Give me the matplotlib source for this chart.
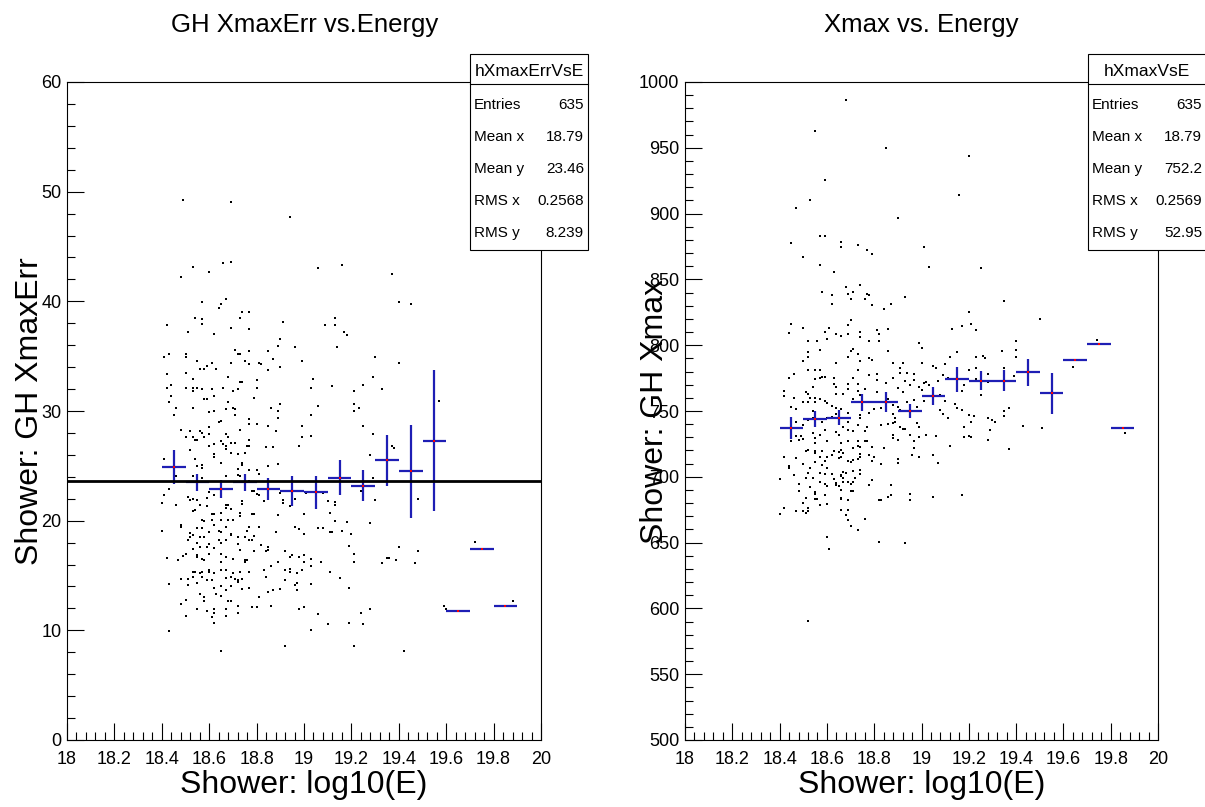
import numpy as np
import matplotlib.pyplot as plt
from matplotlib.patches import Rectangle
from matplotlib.lines import Line2D
from matplotlib.ticker import MultipleLocator

plt.rcParams['font.family'] = ['Liberation Sans', 'DejaVu Sans']

# ---------------- data ----------------
# left panel: Shower log10(E) vs GH XmaxErr
err_x = [18.49, 18.69, 18.94, 18.53, 18.60, 18.48, 18.66, 18.69, 19.06, 19.16, 18.57, 18.67, 18.65, 18.64,
         18.54, 18.57, 18.57, 18.42, 18.51, 18.62, 18.69, 18.74, 18.77, 18.73, 18.77, 18.91, 18.90, 18.89,
         18.96, 19.09, 19.13, 19.13, 19.17, 19.18, 19.14, 18.41, 18.43, 18.50, 18.50, 18.55, 18.61, 18.59,
         18.56, 18.58, 18.63, 18.69, 18.71, 18.72, 18.73, 18.75, 18.77, 18.77, 18.81, 18.82, 18.85, 18.85,
         18.87, 18.90, 18.99, 18.42, 18.50, 18.53, 18.44, 18.42, 18.50, 18.53, 18.53, 18.55, 18.57, 18.61,
         18.66, 18.68, 18.70, 18.72, 18.73, 18.74, 18.80, 18.80, 18.79, 18.44, 18.43, 18.46, 18.45, 18.53,
         18.58, 18.59, 18.62, 18.60, 18.62, 18.68, 18.67, 18.70, 18.71, 18.71, 18.65, 18.64, 18.77, 18.77,
         18.80, 18.86, 18.89, 18.90, 18.89, 18.85, 18.88, 18.99, 18.99, 18.98, 19.04, 19.03, 19.06, 19.03,
         19.03, 19.12, 18.48, 18.50, 18.52, 18.53, 18.54, 18.55, 18.56, 18.57, 18.58, 18.60, 18.60, 18.60,
         18.62, 18.62, 18.62, 18.65, 18.66, 18.67, 18.67, 18.67, 18.68, 18.69, 18.71, 18.69, 18.72, 18.73,
         18.75, 18.76, 18.77, 18.77, 18.84, 18.87, 18.52, 18.54, 18.57, 18.55, 18.57, 18.65, 18.72, 18.74,
         18.74, 18.85, 18.89, 18.41, 18.43, 18.46, 18.53, 18.57, 18.67, 18.72, 18.73, 18.77, 18.80, 18.81,
         18.77, 18.79, 18.80, 18.81, 18.78, 18.90, 18.41, 18.40, 18.46, 18.51, 18.52, 18.53, 18.55, 18.54,
         18.53, 18.56, 18.60, 18.59, 18.62, 18.59, 18.61, 18.62, 18.65, 18.67, 18.67, 18.69, 18.68, 18.74,
         18.74, 18.73, 18.73, 18.78, 18.79, 18.83, 18.91, 18.91, 18.94, 18.96, 19.00, 18.89, 19.01, 19.08,
         19.10, 19.13, 19.13, 19.11, 18.57, 18.58, 18.61, 18.65, 18.68, 18.70, 18.62, 18.48, 18.48, 18.40,
         18.52, 18.55, 18.57, 18.60, 18.64, 18.65, 18.67, 18.69, 18.69, 18.76, 18.77, 18.81, 18.88, 18.96,
         18.98, 19.00, 19.06, 19.08, 19.11, 19.12, 19.16, 18.52, 18.51, 18.53, 18.56, 18.55, 18.58, 18.60,
         18.64, 18.65, 18.67, 18.72, 18.75, 18.77, 18.78, 18.79, 18.72, 18.59, 18.56, 18.53, 18.50, 18.49,
         18.47, 18.42, 18.55, 18.55, 18.57, 18.58, 18.60, 18.62, 18.65, 18.65, 18.67, 18.70, 18.73, 18.75,
         18.75, 18.76, 18.79, 18.82, 18.84, 18.85, 18.85, 18.83, 18.86, 18.89, 18.92, 18.94, 18.95, 18.98,
         19.00, 19.00, 19.03, 19.03, 19.07, 18.92, 18.94, 18.94, 18.97, 18.99, 18.53, 18.54, 18.56, 18.57,
         18.60, 18.60, 18.62, 18.65, 18.67, 18.70, 18.72, 18.72, 18.73, 18.77, 18.48, 18.51, 18.53, 18.57,
         18.59, 18.61, 18.67, 18.69, 18.71, 18.74, 18.84, 18.92, 18.96, 18.97, 18.43, 18.51, 18.55, 18.62,
         18.65, 18.67, 18.69, 18.74, 18.77, 18.85, 18.87, 18.90, 18.97, 19.03, 18.50, 18.56, 18.58, 18.58,
         18.63, 18.65, 18.68, 18.69, 18.81, 18.48, 18.55, 18.59, 18.62, 18.62, 18.67, 18.72, 18.72, 18.78,
         18.80, 18.86, 18.98, 19.00, 19.06, 18.50, 18.61, 18.62, 18.67, 18.43, 19.03, 19.10, 19.19, 18.92,
         19.19, 19.15, 19.11, 19.19, 19.18, 19.13, 18.65, 19.42,
         19.37, 19.40, 19.45, 19.30, 19.40, 19.29, 19.25, 19.33, 19.21, 19.21, 19.23, 19.21, 19.57, 19.25,
         19.29, 19.37, 19.38, 19.28, 19.29, 19.24, 19.30, 19.48, 19.28, 19.20, 19.40, 19.48, 19.21, 19.35,
         19.36, 19.21, 19.33, 19.39, 19.47, 19.72, 19.59, 19.60, 19.28, 19.24, 19.25, 19.88, 19.21]
err_y = [49.2, 49.1, 47.7, 43.1, 42.7, 42.2, 43.5, 43.6, 43.0, 43.3, 39.9, 40.2, 39.8, 39.4,
         38.5, 38.4, 37.9, 37.8, 37.2, 37.0, 37.6, 39.0, 39.0, 38.5, 37.5, 38.1, 36.6, 35.9,
         35.8, 37.8, 38.5, 37.8, 37.2, 36.9, 35.8, 34.9, 35.2, 34.9, 35.2, 34.6, 34.4, 34.1,
         33.8, 33.8, 33.8, 34.4, 35.6, 35.2, 35.2, 34.6, 35.5, 34.3, 34.4, 34.3, 35.5, 33.7,
         34.7, 34.0, 34.6, 33.4, 33.5, 32.9, 32.4, 32.1, 32.1, 32.1, 31.8, 32.1, 32.0, 32.0,
         32.1, 33.1, 31.8, 32.0, 32.6, 32.6, 32.8, 32.1, 31.2, 31.4, 30.8, 30.3, 29.6, 30.3,
         31.1, 31.1, 31.4, 29.9, 30.0, 30.8, 30.2, 30.3, 30.2, 29.6, 29.1, 29.0, 29.3, 28.8,
         28.8, 30.3, 30.0, 30.6, 29.4, 28.6, 28.2, 28.6, 27.6, 26.8, 32.9, 32.1, 30.5, 29.6,
         27.7, 32.3, 28.3, 27.6, 28.2, 27.6, 27.4, 27.4, 28.2, 28.0, 27.6, 27.9, 28.5, 26.8,
         27.0, 26.1, 25.8, 27.3, 27.0, 26.8, 26.5, 27.9, 27.6, 27.1, 27.1, 26.2, 26.1, 28.3,
         26.2, 26.8, 27.4, 26.8, 26.7, 26.7, 26.4, 25.6, 25.1, 25.0, 24.8, 25.3, 24.7, 25.3,
         25.1, 25.0, 25.2, 25.6, 22.9, 24.1, 24.1, 23.9, 24.1, 24.2, 24.1, 24.6, 24.6, 24.3,
         23.6, 22.7, 22.4, 22.3, 22.7, 22.5, 22.3, 21.6, 21.4, 22.2, 21.9, 22.0, 21.9, 21.0,
         20.9, 21.4, 22.6, 22.1, 22.3, 21.3, 20.6, 20.6, 20.7, 21.4, 21.2, 21.1, 21.4, 21.8,
         21.5, 20.7, 20.4, 20.6, 20.6, 21.8, 21.9, 21.6, 21.3, 22.0, 20.6, 20.5, 22.5, 22.5,
         21.8, 21.7, 21.4, 20.7, 20.1, 20.0, 20.1, 20.1, 20.1, 20.1, 19.6, 19.6, 19.4, 19.1,
         18.9, 19.3, 19.3, 19.0, 19.1, 19.0, 19.4, 18.8, 18.7, 19.1, 19.4, 19.4, 19.0, 19.4,
         19.2, 18.8, 19.3, 19.3, 19.0, 19.0, 19.1, 18.5, 18.2, 18.7, 18.5, 18.0, 18.5, 17.9,
         18.2, 18.0, 18.2, 18.5, 18.5, 18.2, 18.2, 18.6, 17.9, 17.6, 17.6, 17.4, 17.0, 16.8,
         16.4, 16.6, 16.9, 16.7, 16.5, 16.4, 17.0, 17.5, 17.0, 16.2, 16.7, 16.5, 17.3, 16.4,
         16.2, 16.4, 17.2, 17.8, 17.2, 17.6, 17.3, 15.5, 15.9, 16.2, 17.2, 16.7, 16.9, 16.7,
         16.9, 16.2, 16.5, 15.9, 16.2, 15.5, 15.6, 15.3, 15.2, 15.5, 15.3, 15.3, 15.2, 15.3,
         15.5, 15.3, 15.2, 15.5, 15.5, 15.2, 14.6, 14.4, 15.3, 15.3, 14.7, 14.7, 14.9, 14.9,
         14.6, 14.6, 14.8, 14.9, 14.7, 14.7, 14.9, 14.6, 14.1, 14.3, 14.2, 14.1, 14.3, 13.9,
         14.0, 13.7, 14.0, 13.8, 13.9, 13.5, 13.7, 13.8, 13.7, 14.2, 12.8, 13.3, 13.0, 12.7,
         13.3, 13.1, 12.7, 12.7, 13.0, 12.4, 11.9, 11.8, 11.9, 11.6, 11.9, 12.2, 11.6, 12.1,
         12.1, 12.2, 11.9, 12.1, 11.5, 11.3, 11.2, 10.7, 11.3, 9.9, 10.0, 10.6, 10.7, 8.6,
         13.9, 14.8, 15.3, 17.7, 19.9, 20.0, 8.1, 8.1,
         42.5, 39.9, 39.8, 34.9, 34.4, 33.1, 32.4, 32.0, 31.8, 30.6, 30.3, 30.0, 30.9, 28.6,
         27.9, 26.8, 26.6, 26.0, 23.9, 22.7, 21.9, 22.0, 19.8, 18.8, 17.6, 17.2, 17.0, 16.6,
         16.6, 16.2, 16.1, 16.4, 16.1, 18.1, 12.2, 11.9, 11.9, 11.6, 10.6, 12.7, 8.6]

# right panel: Shower log10(E) vs GH Xmax
xmax_x = [18.68, 18.55, 18.85, 19.20, 18.59, 19.16, 18.53, 18.47, 18.90, 18.45, 18.57, 18.59, 18.66, 18.66,
          18.73, 18.77, 18.79, 19.01, 18.50, 18.57, 18.63, 19.03, 18.68, 18.74, 18.58, 18.62, 18.69, 18.71,
          18.70, 18.62, 18.77, 18.78, 18.76, 18.79, 18.87, 18.84, 18.93, 19.20, 18.45, 18.44, 18.50, 18.61,
          18.59, 18.64, 18.66, 18.69, 18.70, 18.69, 18.74, 18.74, 18.60, 18.52, 18.56, 18.78, 18.81, 18.82,
          18.82, 18.86, 19.13, 19.17, 18.99, 19.00, 18.86, 18.57, 18.52, 18.52, 18.50, 18.71, 18.70, 18.73,
          18.69, 18.78, 18.79, 18.64, 18.74, 18.88, 18.92, 18.44, 18.46, 18.52, 18.55, 18.57, 18.55, 18.58,
          18.59, 18.57, 18.63, 18.73, 18.71, 18.69, 18.73, 18.78, 18.81, 18.81, 18.85, 18.88, 18.91, 18.91,
          18.94, 18.97, 18.97, 19.02, 19.00, 19.05, 19.06, 19.10, 19.12, 19.15, 19.15, 19.20, 18.99, 19.00,
          19.01, 19.03, 19.07, 19.09, 19.11, 18.93, 18.90, 18.92, 18.95, 18.73, 18.76, 18.81, 18.64, 18.63,
          18.54, 18.51, 18.52, 18.42, 18.42, 18.46, 18.53, 18.55, 18.57, 18.50, 18.52, 18.55, 18.59, 18.60,
          18.62, 18.64, 18.66, 18.64, 18.67, 18.69, 18.71, 18.74, 18.45, 18.47, 18.54, 18.64, 18.69, 18.74,
          18.78, 18.80, 18.83, 18.86, 18.88, 18.90, 18.88, 18.91, 18.94, 18.97, 18.98, 19.01, 19.05, 19.08,
          19.10, 19.08, 19.09, 19.11, 19.14, 19.15, 19.17, 19.20, 19.17, 19.18, 18.47, 18.50, 18.52, 18.54,
          18.58, 18.59, 18.60, 18.62, 18.67, 18.69, 18.73, 18.74, 18.77, 18.83, 18.86, 18.88, 18.89, 18.89,
          18.91, 18.93, 18.92, 18.98, 18.99, 19.02, 18.99, 18.97, 18.88, 18.88, 18.90, 18.95, 18.76, 18.71,
          18.69, 18.65, 18.64, 18.57, 18.54, 18.49, 18.47, 18.48, 18.50, 18.45, 18.55, 18.55, 18.60, 18.66,
          18.69, 18.73, 18.76, 18.74, 18.77, 18.79, 18.73, 18.71, 18.80, 18.79, 18.84, 18.97, 18.96, 18.99,
          19.06, 19.05, 19.07, 19.12, 19.18, 19.18, 19.20, 18.90, 18.90, 18.83, 18.78, 18.74, 18.74, 18.73,
          18.71, 18.70, 18.69, 18.67, 18.66, 18.65, 18.65, 18.66, 18.63, 18.62, 18.60, 18.58, 18.57, 18.55,
          18.55, 18.52, 18.51, 18.47, 18.42, 18.44, 18.44, 18.46, 18.40, 18.50, 18.52, 18.53, 18.53, 18.55,
          18.58, 18.59, 18.60, 18.62, 18.59, 18.57, 18.54, 18.51, 18.48, 18.48, 18.57, 18.59, 18.60, 18.63,
          18.64, 18.64, 18.66, 18.66, 18.67, 18.68, 18.67, 18.69, 18.67, 18.70, 18.71, 18.72, 18.74, 18.74,
          18.71, 18.70, 18.71, 18.66, 18.65, 18.55, 18.55, 18.59, 18.51, 18.55, 18.56, 18.57, 18.60, 18.50,
          18.52, 18.50, 18.51, 18.52, 18.47, 18.42, 18.40, 18.66, 18.66, 18.69, 18.66, 18.69, 18.68, 18.69,
          18.70, 18.73, 18.76, 18.79, 18.78, 18.83, 18.82, 18.86, 18.87, 18.87, 18.95, 18.95, 19.05, 19.17,
          18.60, 18.61, 18.82, 18.93, 18.52,
          19.25, 19.35, 19.21, 19.23, 19.50, 19.40, 19.34, 19.40, 19.26, 19.27, 19.23, 19.40, 19.23, 19.35,
          19.28, 19.39, 19.23, 19.28, 19.25, 19.37, 19.35, 19.22, 19.35, 19.28, 19.30, 19.31, 19.21, 19.43,
          19.51, 19.29, 19.21, 19.28, 19.37, 19.74, 19.64, 19.86]
xmax_y = [986.7, 962.7, 949.9, 943.8, 925.9, 914.5, 910.5, 904.1, 896.3, 877.4, 882.7, 882.7, 878.7, 874.7,
          876.1, 872.1, 869.4, 874.7, 867.3, 860.9, 855.5, 859.5, 844.1, 845.4, 840.1, 838.0, 838.8, 840.1,
          835.3, 831.6, 838.8, 838.0, 835.3, 830.2, 831.6, 827.5, 836.6, 824.9, 816.1, 808.9, 813.4, 813.4,
          809.7, 808.6, 807.3, 808.6, 818.8, 815.3, 810.0, 806.0, 804.6, 803.3, 803.3, 803.3, 811.3, 808.6,
          803.3, 812.1, 812.1, 814.8, 801.9, 797.9, 795.8, 796.6, 794.5, 790.8, 788.1, 797.4, 795.3, 793.2,
          790.8, 790.0, 788.6, 786.8, 788.1, 786.8, 786.8, 775.3, 778.0, 781.4, 781.4, 781.4, 774.0, 776.1,
          776.1, 775.3, 775.3, 781.4, 774.8, 770.8, 770.5, 777.4, 778.0, 773.4, 771.3, 774.8, 782.8, 778.8,
          778.8, 778.0, 773.4, 772.1, 786.8, 784.1, 782.8, 785.4, 790.8, 794.5, 782.8, 781.4, 768.6, 766.0,
          771.3, 770.0, 772.6, 777.4, 774.8, 772.6, 767.3, 764.1, 770.0, 765.4, 766.8, 764.1, 768.1, 770.8,
          768.6, 764.6, 762.8, 765.4, 761.4, 760.1, 760.1, 760.1, 758.8, 756.6, 756.6, 756.6, 757.4, 756.1,
          754.0, 752.6, 751.3, 762.8, 762.8, 766.8, 759.3, 762.0, 753.4, 751.3, 750.0, 748.1, 748.6, 746.8,
          748.6, 751.3, 752.6, 758.8, 754.8, 753.4, 748.1, 750.8, 756.6, 758.0, 753.4, 757.4, 760.1, 762.0,
          757.4, 750.8, 748.1, 744.6, 755.3, 752.1, 750.8, 747.3, 765.4, 769.4, 742.0, 739.3, 742.8, 744.6,
          742.0, 735.3, 744.6, 745.5, 737.5, 742.0, 739.3, 744.6, 738.0, 739.3, 740.1, 740.6, 744.6, 742.0,
          737.5, 736.1, 736.1, 740.6, 737.5, 732.1, 730.0, 727.3, 732.1, 729.4, 728.1, 732.1, 734.8, 734.8,
          735.3, 732.1, 734.0, 732.1, 733.4, 730.8, 730.8, 728.1, 728.6, 727.3, 729.4, 726.0, 727.3, 725.5,
          727.3, 727.3, 727.3, 722.8, 727.3, 722.8, 723.3, 722.0, 714.8, 712.1, 722.0, 722.0, 716.7, 714.8,
          730.8, 716.7, 710.8, 723.3, 737.5, 730.0, 731.3, 713.5, 710.8, 709.5, 716.7, 717.5, 715.3, 713.5,
          712.6, 711.3, 712.1, 718.0, 720.7, 718.8, 714.0, 715.3, 719.3, 716.7, 714.8, 719.3, 715.3, 719.3,
          718.0, 720.7, 719.3, 714.0, 715.3, 708.1, 706.8, 701.5, 698.0, 710.0, 702.8, 706.8, 692.1, 711.3,
          708.7, 712.1, 706.8, 702.0, 702.0, 702.8, 698.8, 698.8, 694.8, 689.4, 696.1, 694.8, 692.7, 698.0,
          695.3, 694.0, 700.6, 701.4, 703.3, 702.8, 699.3, 696.1, 696.1, 694.8, 696.1, 698.8, 702.0, 705.4,
          704.6, 689.4, 689.4, 690.0, 692.7, 688.1, 686.8, 686.0, 684.1, 682.8, 682.8, 678.8, 679.3, 680.1,
          676.1, 674.0, 672.7, 674.0, 674.0, 676.1, 672.1, 684.1, 682.8, 682.0, 674.8, 674.8, 670.8, 666.8,
          662.8, 659.3, 668.1, 697.5, 693.5, 682.0, 682.0, 684.6, 686.0, 693.5, 687.3, 682.0, 684.6, 686.0,
          654.0, 645.5, 650.3, 649.5, 590.5,
          858.5, 833.9, 816.1, 811.3, 819.8, 803.3, 795.8, 796.6, 792.1, 790.0, 790.8, 790.8, 782.8, 782.8,
          778.0, 776.6, 774.0, 772.1, 762.5, 752.6, 750.0, 746.0, 746.0, 744.6, 743.3, 742.0, 742.0, 738.5,
          737.2, 735.8, 730.0, 728.1, 721.4, 803.8, 783.3, 733.5]

# profiles (bins of 0.1 in log10(E), 18.4 .. 19.9)
prof_x = [18.45, 18.55, 18.65, 18.75, 18.85, 18.95, 19.05, 19.15, 19.25, 19.35, 19.45, 19.55, 19.65, 19.75, 19.85]
err_prof = [24.9, 23.5, 22.9, 23.5, 22.9, 22.7, 22.6, 23.9, 23.2, 25.5, 24.5, 27.3, 11.8, 17.4, 12.2]
err_prof_e = [1.55, 0.75, 0.8, 0.8, 1.0, 1.4, 1.5, 1.6, 1.45, 2.35, 4.25, 6.45, 0, 0, 0]
xmax_prof = [737.3, 743.7, 745.0, 756.6, 756.6, 750.0, 761.6, 774.0, 773.0, 773.0, 779.4, 763.4, 788.5, 801.0, 737.3]
xmax_prof_e = [8.5, 6.0, 5.5, 6.3, 7.7, 5.2, 6.7, 9.7, 7.3, 8.0, 10.2, 15.8, 0, 0, 0]
fit_const = 23.6

stat_labels = ["Entries", "Mean x", "Mean y", "RMS x", "RMS y"]
err_stats = ["635", "18.79", "23.46", "0.2568", "8.239"]
xmax_stats = ["635", "18.79", "752.2", "0.2569", "52.95"]

# ---------------- figure ----------------
W, H = 1205, 807
fig = plt.figure(figsize=(W / 100, H / 100), dpi=100)


def fx(px):
    return px / W


def fy(py):
    return 1 - py / H


blue = '#1e1eb4'


def setup(ax, ymin, ymax, ymaj, ymin_step, ylabel, ylab_x):
    ax.set_xlim(18, 20)
    ax.set_ylim(ymin, ymax)
    ax.xaxis.set_major_locator(MultipleLocator(0.2))
    ax.xaxis.set_minor_locator(MultipleLocator(0.04))
    ax.yaxis.set_major_locator(MultipleLocator(ymaj))
    ax.yaxis.set_minor_locator(MultipleLocator(ymin_step))
    ax.xaxis.set_major_formatter(plt.FuncFormatter(lambda v, p: f"{v:g}"))
    ax.tick_params(which='both', direction='in', top=False, right=False, width=0.8, labelsize=13)
    ax.tick_params(which='major', length=12)
    ax.tick_params(which='minor', length=6)
    ax.tick_params(axis='x', pad=8)
    ax.tick_params(axis='y', pad=4)
    for s in ax.spines.values():
        s.set_linewidth(0.8)
    ax.set_xlabel("Shower: log10(E)", fontsize=23)
    ax.xaxis.set_label_coords(0.5, -0.068)
    ax.xaxis.label.set_va('center')
    ax.set_ylabel(ylabel, fontsize=23)
    ax.yaxis.set_label_coords(ylab_x, 0.5)
    ax.yaxis.label.set_va('center')


def stats_box(x0, name, values):
    x1 = x0 + 118
    y0, ysep, y1 = 54, 84, 250
    fig.add_artist(Rectangle((fx(x0), fy(y1)), (x1 - x0) / W, (y1 - y0) / H,
                             transform=fig.transFigure, fc='white', ec='black', lw=0.8, zorder=5))
    fig.add_artist(Line2D([fx(x0), fx(x1)], [fy(ysep), fy(ysep)], transform=fig.transFigure,
                          color='black', lw=0.8, zorder=6))
    fig.text(fx((x0 + x1) / 2), fy(71), name, ha='center', va='center', fontsize=12.5, zorder=7)
    for i, (lab, val) in enumerate(zip(stat_labels, values)):
        yy = 105 + i * 32
        fig.text(fx(x0 + 4), fy(yy), lab, ha='left', va='center', fontsize=11, zorder=7)
        fig.text(fx(x1 - 4), fy(yy), val, ha='right', va='center', fontsize=11, zorder=7)


# left panel
ax1 = fig.add_axes([fx(67), fy(740), 474 / W, 658 / H])
setup(ax1, 0, 60, 10, 2, "Shower: GH XmaxErr", -0.078)
ax1.scatter(err_x, err_y, s=2.6, marker='s', c='black', linewidths=0, zorder=2)
ax1.errorbar(prof_x, err_prof, xerr=0.05, yerr=err_prof_e, fmt='none', ecolor=blue,
             elinewidth=1.6, capsize=0, zorder=3)
ax1.plot(prof_x, err_prof, ls='none', marker='s', ms=1.6, color='red', mew=0, zorder=4)
ax1.axhline(fit_const, color='black', lw=2.0, zorder=5)

# right panel
ax2 = fig.add_axes([fx(685), fy(740), 473 / W, 658 / H])
setup(ax2, 500, 1000, 50, 10, "Shower: GH Xmax", -0.063)
ax2.scatter(xmax_x, xmax_y, s=2.6, marker='s', c='black', linewidths=0, zorder=2)
ax2.errorbar(prof_x, xmax_prof, xerr=0.05, yerr=xmax_prof_e, fmt='none', ecolor=blue,
             elinewidth=1.6, capsize=0, zorder=3)
ax2.plot(prof_x, xmax_prof, ls='none', marker='s', ms=1.6, color='red', mew=0, zorder=4)

fig.text(fx(305), fy(25), "GH XmaxErr vs.Energy", ha='center', va='center', fontsize=18.5)
fig.text(fx(921), fy(25), "Xmax vs. Energy", ha='center', va='center', fontsize=18.5)

stats_box(470, "hXmaxErrVsE", err_stats)
stats_box(1088, "hXmaxVsE", xmax_stats)

fig.savefig("out.png", dpi=100)
